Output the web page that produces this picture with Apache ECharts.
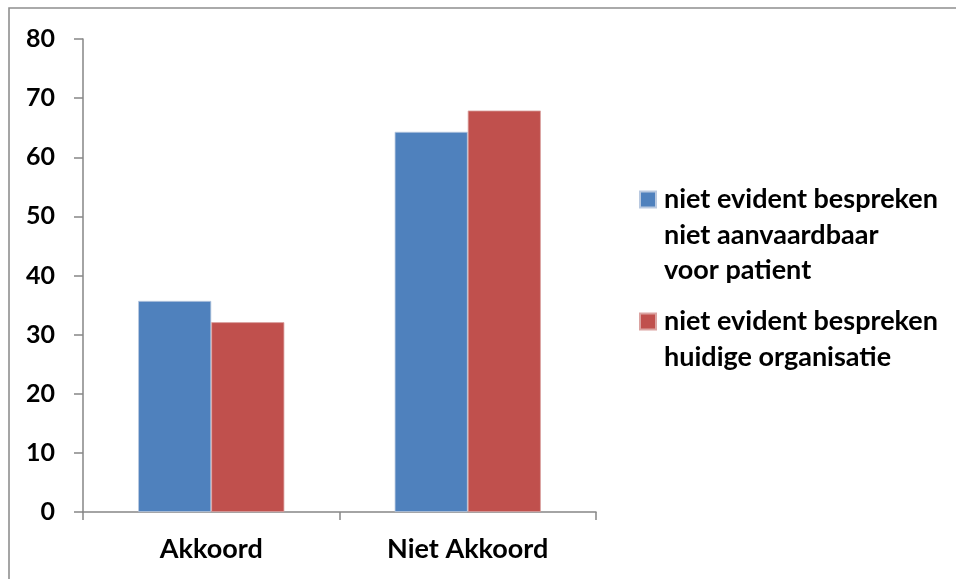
<!DOCTYPE html>
<html>
<head>
<meta charset="utf-8">
<script src="https://cdn.jsdelivr.net/npm/echarts@6/dist/echarts.min.js"></script>
<style>
  html, body { margin: 0; padding: 0; background: #fff; }
  #chart { width: 956px; height: 579px; }
</style>
</head>
<body>
<div id="chart"></div>
<script>
// Categories and percentages per statement
const categories = ['Akkoord', 'Niet Akkoord'];
const seriesNames = [
  'niet evident bespreken\nniet aanvaardbaar\nvoor patient',
  'niet evident bespreken\nhuidige organisatie'
];
const aanvaardbaarValues = [35.7, 64.3];
const organisatieValues = [32.1, 67.9];
const yTicks = { min: 0, max: 80, interval: 10 };

const FONT = 'Lato';
const colors = ['#4F81BD', '#C0504D'];
const LH = 35.5;

const chart = echarts.init(document.getElementById('chart'), null, { renderer: 'canvas' });

// One legend per series so the swatch sits beside the first text line:
// blank lines are prepended so the first real line lands on the block's centre.
function legendFor(name, iconCenterY) {
  const lines = name.split('\n').length;
  const total = lines * 2 - 1;
  return {
    left: 639,
    top: iconCenterY - (total * LH) / 2,
    orient: 'vertical',
    padding: 0,
    itemWidth: 16,
    itemHeight: 16,
    itemGap: 0,
    icon: 'rect',
    data: [name],
    formatter: function (n) {
      return ' \n'.repeat(lines - 1) + n;
    },
    textStyle: {
      fontFamily: FONT,
      fontWeight: 'bold',
      fontSize: 27,
      color: '#000',
      lineHeight: LH,
      padding: [0, 0, 0, 3]
    }
  };
}

const option = {
  animation: false,
  backgroundColor: '#fff',
  graphic: [{
    type: 'rect',
    shape: { x: 9, y: 8, width: 1200, height: 1200 },
    style: { fill: 'none', stroke: '#8f8f8f', lineWidth: 1.6 },
    silent: true
  }],
  grid: { left: 83, right: 360, top: 39, bottom: 67, containLabel: false },
  legend: [
    legendFor(seriesNames[0], 199.5),
    legendFor(seriesNames[1], 321.5)
  ],
  xAxis: {
    type: 'category',
    data: categories,
    axisLine: { show: true, lineStyle: { color: '#868686', width: 1.5 } },
    axisTick: { show: true, length: 8, alignWithLabel: false, lineStyle: { color: '#868686', width: 1.5 } },
    axisLabel: {
      margin: 24,
      fontFamily: FONT, fontWeight: 'bold', fontSize: 27, color: '#000'
    }
  },
  yAxis: {
    type: 'value',
    min: yTicks.min, max: yTicks.max, interval: yTicks.interval,
    splitLine: { show: false },
    axisLine: { show: true, lineStyle: { color: '#868686', width: 1.5 } },
    axisTick: { show: true, length: 9, lineStyle: { color: '#868686', width: 1.5 } },
    axisLabel: {
      margin: 28,
      fontFamily: FONT, fontWeight: 'bold', fontSize: 25, color: '#000'
    }
  },
  series: [
    {
      name: seriesNames[0],
      type: 'bar',
      data: aanvaardbaarValues,
      barGap: '0%',
      barCategoryGap: '43%',
      itemStyle: { color: colors[0], borderColor: '#b9c9e0', borderWidth: 0.8 }
    },
    {
      name: seriesNames[1],
      type: 'bar',
      data: organisatieValues,
      barGap: '0%',
      barCategoryGap: '43%',
      itemStyle: { color: colors[1], borderColor: '#dba3a1', borderWidth: 0.8 }
    }
  ]
};

chart.setOption(option);
</script>
</body>
</html>
